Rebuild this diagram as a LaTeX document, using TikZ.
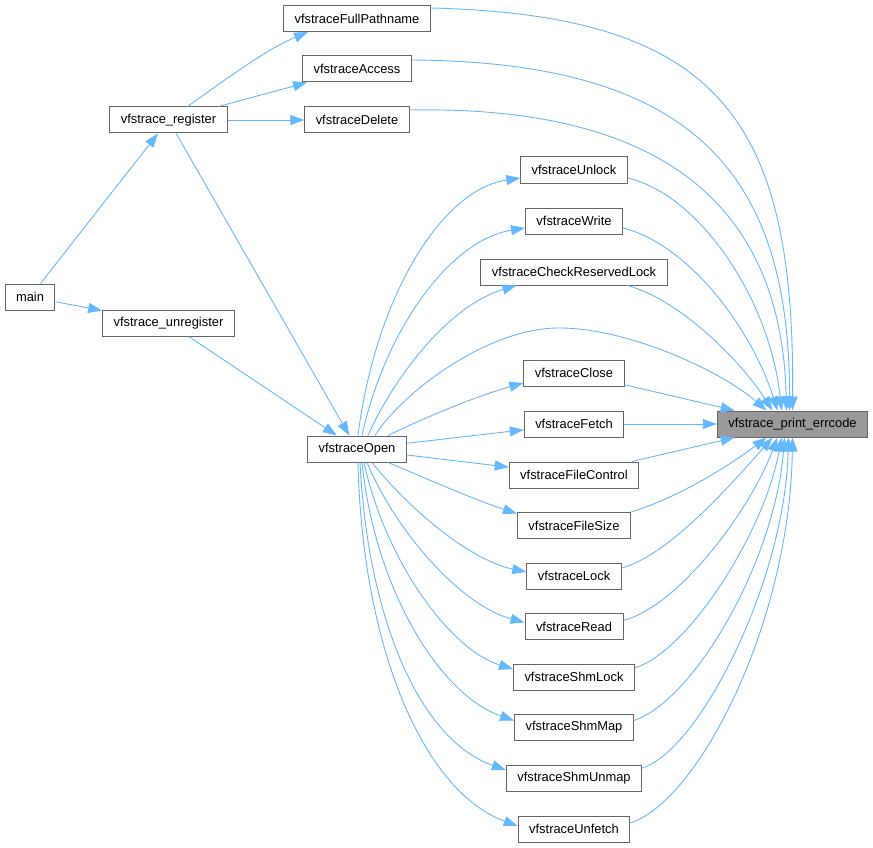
\documentclass[tikz,border=0pt]{standalone}
\usepackage{fontspec}
\setmainfont{Liberation Sans}
\usetikzlibrary{arrows.meta,calc}
\definecolor{edgeblue}{HTML}{63B8FF}
\definecolor{nodeborder}{HTML}{666666}
\definecolor{curfill}{HTML}{999999}
\begin{document}
\begin{tikzpicture}[x=1pt,y=-1pt,
  box/.style={draw=nodeborder,line width=1pt,fill=white,minimum height=26pt,inner xsep=11pt,inner ysep=0pt,font=\fontsize{12.9}{15}\selectfont,text=black},
  curbox/.style={box,fill=curfill},
  edge/.style={draw=edgeblue,line width=0.9pt,-{Triangle[length=14pt,width=10pt]}}]
\useasboundingbox (0,0) rectangle (873,848);
% nodes
\node[box] (main) at (30,297) {main};
\node[box] (reg) at (168.5,120) {vfstrace\_register};
\node[box] (unreg) at (168.5,323) {vfstrace\_unregister};
\node[box] (fullp) at (357,18.5) {vfstraceFullPathname};
\node[box] (access) at (357,69) {vfstraceAccess};
\node[box] (delete) at (357,120) {vfstraceDelete};
\node[box] (open) at (357,449) {vfstraceOpen};
\node[box] (unlock) at (574,170) {vfstraceUnlock};
\node[box] (write) at (574,221) {vfstraceWrite};
\node[box] (crl) at (574,272) {vfstraceCheckReservedLock};
\node[box] (close) at (574,373) {vfstraceClose};
\node[box] (fetch) at (574,424) {vfstraceFetch};
\node[box] (fc) at (574,475) {vfstraceFileControl};
\node[box] (fsize) at (574,525.5) {vfstraceFileSize};
\node[box] (lock) at (574,576) {vfstraceLock};
\node[box] (read) at (574,626.5) {vfstraceRead};
\node[box] (shml) at (574,677) {vfstraceShmLock};
\node[box] (shmm) at (574,727.5) {vfstraceShmMap};
\node[box] (shmu) at (574,778) {vfstraceShmUnmap};
\node[box] (unf) at (574,829) {vfstraceUnfetch};
\node[curbox] (err) at (792.5,424) {vfstrace\_print\_errcode};
% left part
\draw[edge] (main) -- (reg);
\draw[edge] (main) -- (unreg);
\draw[edge] ($(reg.north)+(19,0)$) .. controls (225,80) and (265,50) .. ($(fullp.south)+(-49,0)$);
\draw[edge] (reg) -- (access);
\draw[edge] (reg) -- (delete);
\draw[edge] (reg) -- (open);
\draw[edge] (unreg) -- (open);
% top group into err
\draw[edge] ($(fullp.north east)+(0,3)$) .. controls (720,15) and (795,120) .. ($(err.north)+(0,0)$);
\draw[edge] ($(access.east)+(0,-9)$) .. controls (690,62) and (790,170) .. ($(err.north)+(-3,0)$);
\draw[edge] ($(delete.east)+(0,-10)$) .. controls (680,105) and (782,220) .. ($(err.north)+(-6,0)$);
\draw[edge] ($(unlock.east)+(0,8)$) .. controls (700,195) and (770,300) .. ($(err.north)+(-11,0)$);
\draw[edge] ($(write.east)+(0,7)$) .. controls (690,245) and (752,330) .. ($(err.north)+(-15,0)$);
\draw[edge] ($(crl.south east)+(-40,0)$) .. controls (680,300) and (740,360) .. ($(err.north)+(-20,0)$);
\draw[edge] ($(open.north)+(18,0)$) .. controls (400,395) and (485,329) .. (557,328) .. controls (625,327) and (720,370) .. ($(err.north)+(-26,0)$);
\draw[edge] (close) -- (err);
\draw[edge] (fetch) -- (err);
\draw[edge] (fc) -- (err);
% bottom group into err
\draw[edge] (fsize.north east) .. controls (680,497) and (730,465) .. ($(err.south)+(-26,0)$);
\draw[edge] ($(lock.east)+(0,-8)$) .. controls (670,555) and (735,480) .. ($(err.south)+(-20,0)$);
\draw[edge] ($(read.east)+(0,-6)$) .. controls (680,605) and (750,510) .. ($(err.south)+(-15,0)$);
\draw[edge] ($(shml.east)+(0,-9)$) .. controls (690,650) and (765,530) .. ($(err.south)+(-11,0)$);
\draw[edge] ($(shmm.east)+(0,-7)$) .. controls (695,700) and (775,560) .. ($(err.south)+(-8,0)$);
\draw[edge] ($(shmu.east)+(0,-10)$) .. controls (700,750) and (785,580) .. ($(err.south)+(-4,0)$);
\draw[edge] ($(unf.east)+(0,-6)$) .. controls (700,800) and (790,620) .. ($(err.south)+(0,0)$);
% open to functions
\draw[edge] ($(open.north)+(1,0)$) .. controls (375,300) and (440,190) .. ($(unlock.west)+(0,8)$);
\draw[edge] ($(open.north)+(5,0)$) .. controls (385,330) and (450,240) .. ($(write.west)+(0,7)$);
\draw[edge] ($(open.north)+(11,0)$) .. controls (395,375) and (450,305) .. ($(crl.south west)+(36,0)$);
\draw[edge] ($(open.north)+(31,0)$) .. controls (430,415) and (480,395) .. ($(close.west)+(0,10)$);
\draw[edge] (open) -- (fetch);
\draw[edge] (open) -- (fc);
\draw[edge] ($(open.south)+(31,0)$) .. controls (430,480) and (475,500) .. ($(fsize.west)+(0,-12)$);
\draw[edge] ($(open.south)+(15,0)$) .. controls (410,510) and (470,560) .. ($(lock.west)+(0,-4)$);
\draw[edge] ($(open.south)+(10,0)$) .. controls (395,530) and (460,605) .. ($(read.west)+(0,-4)$);
\draw[edge] ($(open.south)+(7,0)$) .. controls (385,560) and (450,650) .. ($(shml.west)+(0,-8)$);
\draw[edge] ($(open.south)+(5,0)$) .. controls (375,590) and (440,695) .. ($(shmm.west)+(0,-7)$);
\draw[edge] ($(open.south)+(3,0)$) .. controls (368,620) and (420,740) .. ($(shmu.west)+(0,-8)$);
\draw[edge] ($(open.south)+(1,0)$) .. controls (362,640) and (420,790) .. ($(unf.west)+(0,-3)$);
\end{tikzpicture}
\end{document}
